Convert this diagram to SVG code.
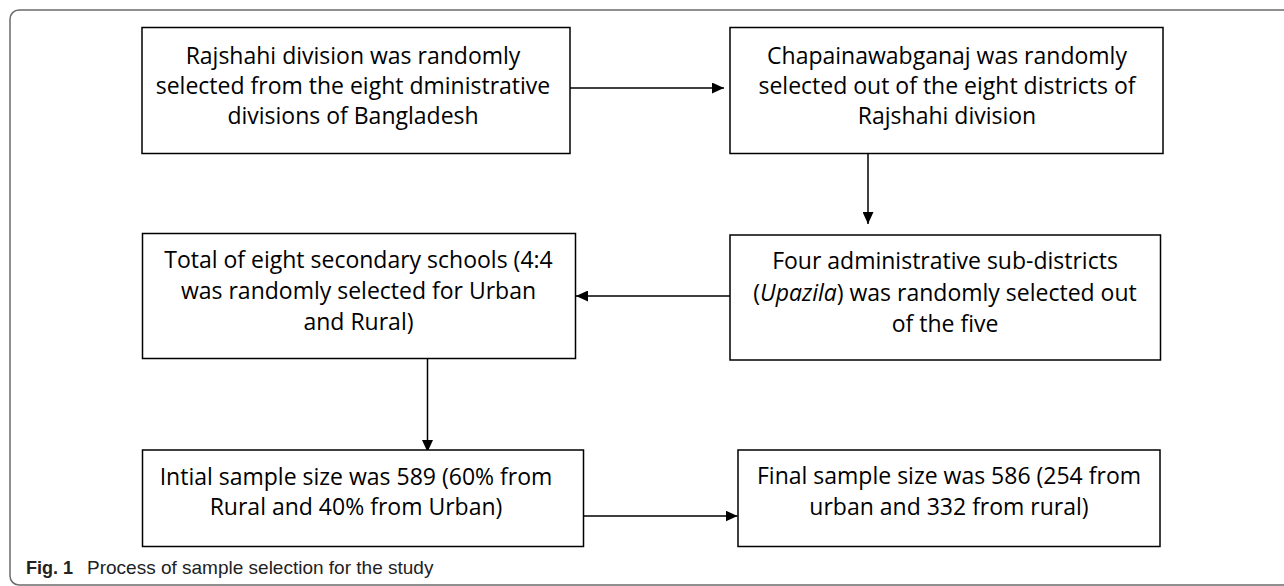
<svg xmlns="http://www.w3.org/2000/svg" width="1284" height="586" viewBox="0 0 1284 586">
<defs>
<style>
.box{fill:#fff;stroke:#000;stroke-width:1.5}
.t{font-family:"Open Sans","Liberation Sans",sans-serif;font-size:23px;fill:#000;text-anchor:middle}
.con{stroke:#000;stroke-width:1.5;fill:none;marker-end:url(#ah)}
.cap{font-family:"Liberation Sans",Arial,sans-serif;font-size:19px;fill:#222}
</style>
<marker id="ah" viewBox="0 0 12 11" refX="12" refY="5.5" markerWidth="12" markerHeight="11" markerUnits="userSpaceOnUse" orient="auto">
<path d="M0,0 L12,5.5 L0,11 z" fill="#000"/>
</marker>
</defs>
<rect x="0" y="0" width="1284" height="586" fill="#fff"/>
<rect id="frame" x="10" y="10" width="1300" height="575" rx="9" ry="9" fill="none" stroke="#6b6b6b" stroke-width="1.5"/>

<g id="connectors">
<line class="con" x1="570" y1="88" x2="724" y2="88"/>
<line class="con" x1="868" y1="153" x2="868" y2="224"/>
<line class="con" x1="730" y1="296" x2="576" y2="296"/>
<line class="con" x1="427.5" y1="358" x2="427.5" y2="452"/>
<line class="con" x1="584" y1="516" x2="737.5" y2="516"/>
</g>

<g id="n1">
<rect class="box" x="142" y="27.5" width="428" height="126"/>
<text class="t" x="353" y="63.5">Rajshahi division was randomly</text>
<text class="t" x="353" y="94">selected from the eight dministrative</text>
<text class="t" x="353" y="123.5">divisions of Bangladesh</text>
</g>

<g id="n2">
<rect class="box" x="730" y="27.5" width="433" height="126"/>
<text class="t" x="947" y="63.5">Chapainawabganaj was randomly</text>
<text class="t" x="947" y="94">selected out of the eight districts of</text>
<text class="t" x="947" y="124">Rajshahi division</text>
</g>

<g id="n3">
<rect class="box" x="142.5" y="233.5" width="433" height="125"/>
<text class="t" x="358.5" y="268">Total of eight secondary schools (4:4</text>
<text class="t" x="358.5" y="299">was randomly selected for Urban</text>
<text class="t" x="358.5" y="330">and Rural)</text>
</g>

<g id="n4">
<rect class="box" x="730" y="235" width="430.5" height="125"/>
<text class="t" x="945" y="268.5">Four administrative sub-districts</text>
<text class="t" x="945" y="300.5">(<tspan font-style="italic">Upazila</tspan>) was randomly selected out</text>
<text class="t" x="945" y="331.5">of the five</text>
</g>

<g id="n5">
<rect class="box" x="142.5" y="450" width="441" height="96.5"/>
<text class="t" x="356" y="485">Intial sample size was 589 (60% from</text>
<text class="t" x="356" y="515">Rural and 40% from Urban)</text>
</g>

<g id="n6">
<rect class="box" x="738" y="450" width="422" height="96.5"/>
<text class="t" x="949" y="484">Final sample size was 586 (254 from</text>
<text class="t" x="949" y="515">urban and 332 from rural)</text>
</g>

<g id="caption">
<text class="cap" x="26" y="574"><tspan font-weight="bold" font-size="18">Fig. 1</tspan><tspan x="87">Process of sample selection for the study</tspan></text>
</g>
</svg>
